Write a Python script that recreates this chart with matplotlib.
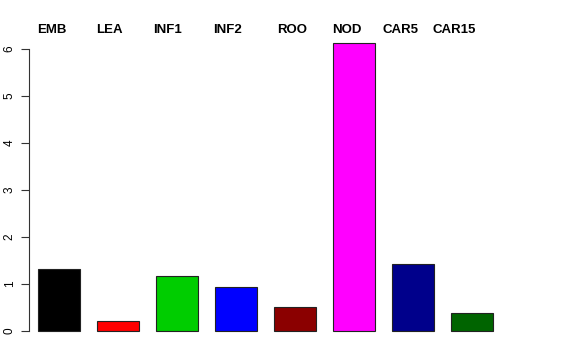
import numpy as np
import matplotlib
matplotlib.use('Agg')
import matplotlib.pyplot as plt
import matplotlib.transforms as mtransforms

plt.rcParams['font.family'] = ['Liberation Sans', 'DejaVu Sans']

# data
tissues = ['EMB', 'LEA', 'INF1', 'INF2', 'ROO', 'NOD', 'CAR5', 'CAR15']
values = [1.31, 0.21, 1.16, 0.94, 0.50, 6.13, 1.42, 0.38]
colors = ['#000000', '#FF0000', '#00CD00', '#0000FF', '#8B0000', '#FF00FF', '#00008B', '#006400']
yticks = [0, 1, 2, 3, 4, 5, 6]

# label shift from bar centre (in bar slots), labels sit a bit off in the original
label_shift = [-0.12, -0.15, -0.16, -0.14, -0.05, -0.12, -0.22, -0.31]

fig = plt.figure(figsize=(5.76, 3.6), dpi=100)
ax = fig.add_axes([29 / 576, 17.8 / 360, 473 / 576, 311.1 / 360])

x = np.arange(len(tissues))
ax.bar(x, values, width=0.71, color=colors, edgecolor='#222222', linewidth=0.8)

ax.set_xlim(-0.508, 7.508)
ax.set_ylim(-0.245, 6.375)

for side in ['top', 'right', 'bottom']:
    ax.spines[side].set_visible(False)
ax.spines['left'].set_bounds(0, 6)
ax.spines['left'].set_color('#333333')
ax.spines['left'].set_linewidth(0.8)
ax.set_xticks([])
ax.set_yticks(yticks)
ax.set_yticklabels([str(t) for t in yticks], rotation=90, va='center', fontsize=8.5)
ax.tick_params(axis='y', length=5.5, width=0.8, color='#333333', pad=4)

trans = mtransforms.blended_transform_factory(ax.transData, fig.transFigure)
for i, name in enumerate(tissues):
    ax.text(x[i] + label_shift[i], 1 - 30 / 360, name, transform=trans,
            ha='center', va='center', fontsize=9.5, fontweight='bold')

fig.savefig('out.png', dpi=100)
